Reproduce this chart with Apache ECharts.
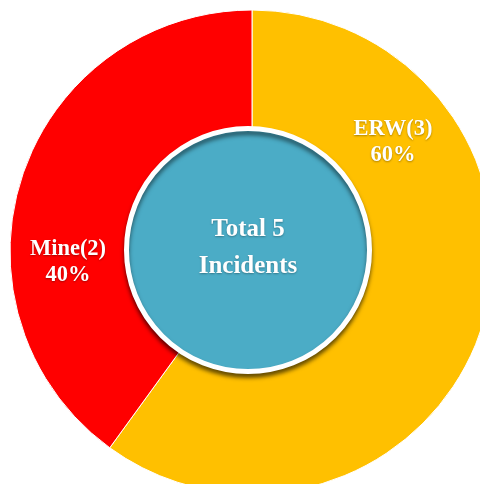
<!DOCTYPE html>
<html lang="en">
<head>
    <meta charset="UTF-8">
    <title>Incidents</title>
    <script src="https://cdn.jsdelivr.net/npm/echarts@6/dist/echarts.min.js"></script>
    <style>
        html, body { margin: 0; padding: 0; background: #fff; }
    </style>
</head>
<body>
    <div id="pie" style="width: 480px;height:484px;"></div>
    <script type="text/javascript">

        // data
        var categories = ['ERW', 'Mine'];
        var counts = [3, 2];
        var colors = ['#FFC000', '#FF0000'];
        var centerText = ['Total 5', 'Incidents'];

        // where the labels were dragged to in the original
        var labelPos = [[393, 142], [68, 262]];

        var total = 0;
        for (var i = 0; i < counts.length; i++) total += counts[i];

        var pieData = [];
        for (var i = 0; i < categories.length; i++) {
            pieData.push({
                name: categories[i],
                value: counts[i],
                itemStyle: { color: colors[i] }
            });
        }

        var pieChart = echarts.init(document.getElementById('pie'));
        pieChart.setOption({
            animation: false,
            series: [{
                type: 'pie',
                center: [252, 252],
                radius: [100, 242],
                startAngle: 90,
                clockwise: true,
                silent: true,
                itemStyle: {
                    borderColor: '#fff',
                    borderWidth: 1
                },
                label: {
                    show: true,
                    position: 'inside',
                    color: '#fff',
                    fontFamily: 'Liberation Serif',
                    fontWeight: 'bold',
                    fontSize: 22.5,
                    lineHeight: 26,
                    textShadowColor: 'rgba(0,0,0,0.35)',
                    textShadowBlur: 2,
                    textShadowOffsetY: 1,
                    formatter: function (p) {
                        return p.name + '(' + p.value + ')\n' + Math.round(p.value / total * 100) + '%';
                    }
                },
                labelLine: { show: false },
                labelLayout: function (p) {
                    return {
                        x: labelPos[p.dataIndex][0],
                        y: labelPos[p.dataIndex][1],
                        align: 'center',
                        verticalAlign: 'middle'
                    };
                },
                data: pieData
            }, {
                // center disc
                type: 'pie',
                center: [248, 250],
                radius: [0, 121.5],
                silent: true,
                z: 5,
                itemStyle: {
                    color: '#4BACC6',
                    borderColor: '#fff',
                    borderWidth: 5,
                    shadowColor: 'rgba(0,0,0,0.5)',
                    shadowBlur: 4,
                    shadowOffsetY: 4
                },
                label: {
                    show: true,
                    position: 'center',
                    color: '#fff',
                    fontFamily: 'Liberation Serif',
                    fontWeight: 'bold',
                    fontSize: 25,
                    lineHeight: 37,
                    textShadowColor: 'rgba(0,0,0,0.3)',
                    textShadowBlur: 2,
                    textShadowOffsetY: 1,
                    formatter: centerText.join('\n')
                },
                labelLayout: { dy: -2 },
                labelLine: { show: false },
                data: [{ name: 'total', value: total }]
            }]
        });

    </script>
</body>
</html>
